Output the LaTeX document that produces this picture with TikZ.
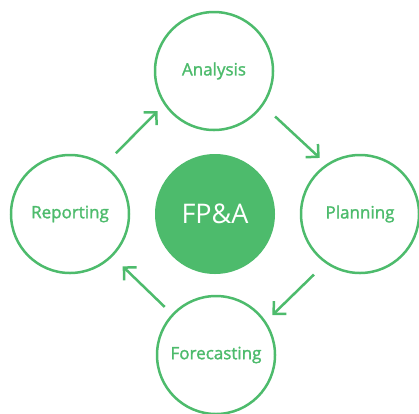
\documentclass[tikz,border=0pt]{standalone}
\usepackage{fontspec}
\setmainfont{Open Sans}
\newfontfamily\semibold[FakeBold=1.6]{Open Sans}
\usepackage{tikz}
\usetikzlibrary{arrows.meta}
\usetikzlibrary{positioning}
\definecolor{fpgreen}{RGB}{77,187,108}
\tikzset{
    stage/.style={
           circle,
           draw=fpgreen, line width=2.5pt,
           minimum size=118pt,
           inner sep=0pt,
           text centered,
           text=fpgreen,
           font=\semibold\fontsize{17}{19}\selectfont
           },
    core/.style={
           circle,
           fill=fpgreen,
           minimum size=120pt,
           inner sep=0pt,
           text=white,
           font=\fontsize{27}{30}\selectfont
           },
    flow/.style={
           draw=fpgreen, line width=2.5pt,
           -{Straight Barb[length=9pt,width=18pt]},
           shorten <=16pt, shorten >=9pt
           },
}

\begin{document}
\begin{tikzpicture}[x=1pt,y=-1pt]
\useasboundingbox (0,0) rectangle (419,413);

\node[core] (FPA) at (215,214) {FP\&A};

 % the four stages round the centre
\node[stage] (ANALYSIS) at (214,71) {Analysis};
\node[stage] (PLANNING) at (360,214) {Planning};
\node[stage] (FORECAST) at (216,355) {Forecasting};
\node[stage] (REPORTING) at (70,214) {Reporting};

\path (REPORTING.55)  edge[flow] (ANALYSIS.214)
      (ANALYSIS.-35)  edge[flow] (PLANNING.124)
      (PLANNING.235)  edge[flow] (FORECAST.34)
      (FORECAST.137)  edge[flow, shorten <=10pt, shorten >=14pt] (REPORTING.-45)
;

\end{tikzpicture}
\end{document}
